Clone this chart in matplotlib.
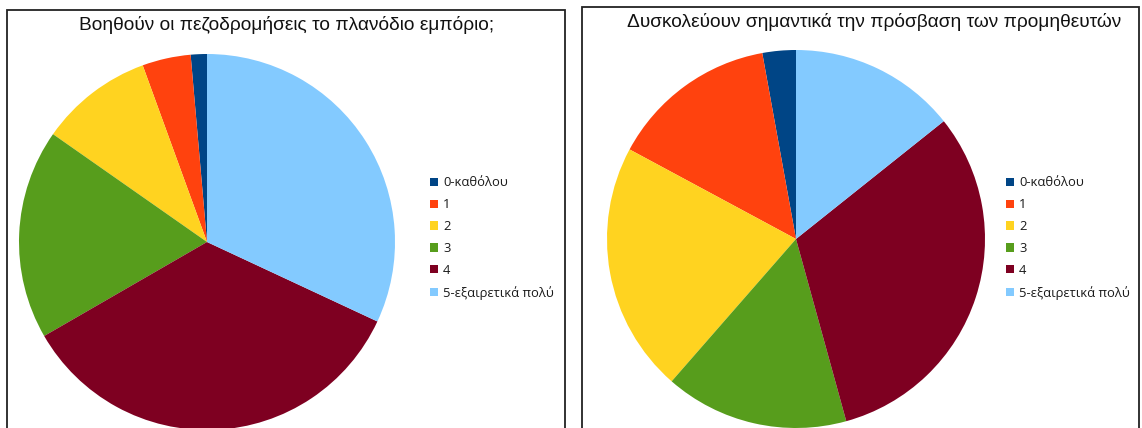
import matplotlib.pyplot as plt
from matplotlib.patches import Rectangle

W, H = 1142, 428

# Survey answers (number of respondents per score)
labels = ['0-καθόλου', '1', '2', '3', '4', '5-εξαιρετικά πολύ']
colors = ['#004586', '#ff420e', '#ffd320', '#579d1c', '#7e0021', '#83caff']

title_left = 'Βοηθούν οι πεζοδρομήσεις το πλανόδιο εμπόριο;'
counts_left = [1, 3, 7, 13, 25, 23]

title_right = 'Δυσκολεύουν σημαντικά την πρόσβαση των προμηθευτών'
counts_right = [2, 10, 15, 11, 22, 10]

fig = plt.figure(figsize=(W / 100, H / 100), dpi=100)
fig.patch.set_facecolor('white')


def px_axes(x0, y0, x1, y1):
    # axes from pixel box (top-left origin)
    return fig.add_axes([x0 / W, 1 - y1 / H, (x1 - x0) / W, (y1 - y0) / H])


def panel(box, title, title_xy, counts, pie_box, leg_xy):
    x0, y0, x1, y1 = box
    fig.patches.append(Rectangle((x0 / W, 1 - y1 / H), (x1 - x0) / W, (y1 - y0) / H,
                                 transform=fig.transFigure, fill=False,
                                 edgecolor='#222222', linewidth=1.3))
    fig.text(title_xy[0] / W, 1 - title_xy[1] / H, title, ha='center', va='center',
             fontsize=13.8, family='Liberation Sans', color='#111111')
    ax = px_axes(*pie_box)
    wedges, _ = ax.pie(counts, colors=colors, startangle=90, counterclock=True,
                       radius=1, wedgeprops=dict(linewidth=0))
    ax.set_xlim(-1, 1)
    ax.set_ylim(-1, 1)
    ax.set_aspect('equal')
    fig.legend(wedges, labels, loc='center left',
               bbox_to_anchor=(leg_xy[0] / W, 1 - leg_xy[1] / H),
               frameon=False, borderpad=0, borderaxespad=0,
               handlelength=0.6, handleheight=0.6, handletextpad=0.4,
               labelspacing=0.68, prop=dict(family='Open Sans', size=9.4),
               labelcolor='#1a1a1a')


panel((7, 10, 565, 440), title_left, (287, 25), counts_left,
      (19, 54, 395, 430), (430, 238))
panel((582, 7, 1139, 440), title_right, (874, 22), counts_right,
      (607, 50, 985, 428), (1006, 238))

fig.savefig('out.png', dpi=100)
